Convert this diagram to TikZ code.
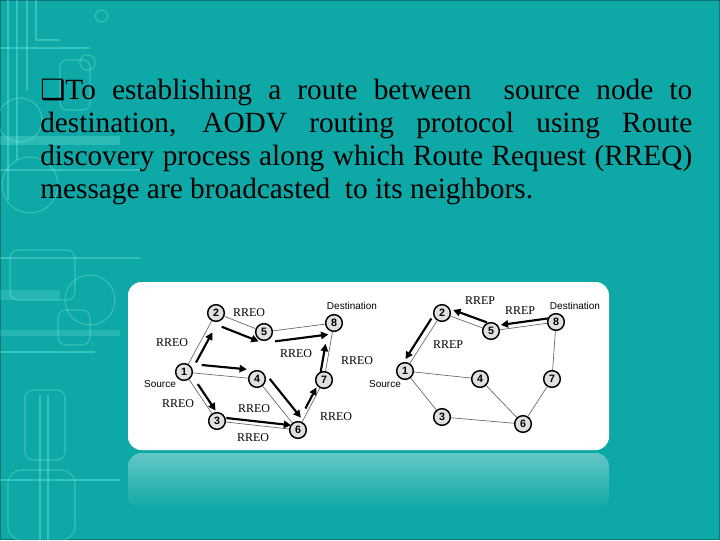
\documentclass[tikz,border=0pt]{standalone}
\usepackage{fontspec}
\setmainfont{Liberation Serif}
\setsansfont{Liberation Sans}
\newfontfamily\symfont{DejaVu Sans}
\usetikzlibrary{arrows.meta,calc}
\definecolor{slidebg}{RGB}{14,168,166}
\definecolor{glow}{RGB}{130,242,232}
\begin{document}
\begin{tikzpicture}[x=0.75pt,y=-0.75pt]
        \tikzstyle{station}=[circle,draw=black,line width=1.1pt,fill=black!12,minimum size=12.5pt,inner sep=0pt,font=\sffamily\bfseries\fontsize{8}{8}\selectfont]
        \tikzstyle{link}=[draw=black!60,line width=0.5pt]
        \tikzstyle{msg}=[draw=black,line width=1.6pt,-{Triangle[length=5.5pt,width=5.5pt]}]
        \tikzstyle{tag}=[inner sep=0pt,font=\fontsize{9}{9}\selectfont]
        \tikzstyle{place}=[inner sep=0pt,font=\sffamily\fontsize{7.5}{7.5}\selectfont]
        \tikzstyle{trace}=[draw=glow,line width=0.8pt,opacity=0.35]
       % slide background
       \fill[slidebg] (0,0) rectangle (720,540);
       \useasboundingbox (0,0) rectangle (720,540);
       \draw[slidebg!70!black,line width=1pt] (0.5,0.5) rectangle (719.5,539.5);
       % circuit decoration on the left
       \begin{scope}
         \draw[trace] (8,0) -- (8,200);
         \draw[trace] (17,0) -- (17,160);
         \draw[trace] (27,0) -- (27,90);
         \draw[trace] (36,0) -- (36,40) -- (60,40);
         \draw[trace] (0,48) -- (90,48);
         \draw[trace,rounded corners=5] (60,60) rectangle (90,110);
         \draw[trace,rounded corners=5] (95,10) rectangle (108,22);
         \draw[trace,rounded corners=5] (80,55) rectangle (95,70);
         \draw[trace] (20,120) circle (22);
         \draw[trace] (30,185) circle (28);
         \draw[trace,rounded corners=6] (10,250) rectangle (75,300);
         \draw[trace,rounded corners=6] (58,310) rectangle (90,345);
         \draw[trace] (90,300) circle (25);
         \draw[trace] (0,170) -- (140,170);
         \draw[trace] (0,258) -- (140,258);
         \draw[trace] (0,352) -- (95,352);
         \draw[trace] (40,395) -- (40,540);
         \draw[trace] (48,395) -- (48,540);
         \draw[trace,rounded corners=10] (8,470) rectangle (75,540);
         \draw[trace,rounded corners=6] (25,390) rectangle (65,460);
         \draw[trace] (0,480) -- (120,480);
         \fill[glow,opacity=0.25] (0,136) rectangle (120,145);
         \fill[glow,opacity=0.2] (0,290) rectangle (60,300);
         \fill[glow,opacity=0.2] (0,330) rectangle (120,336);
       \end{scope}
       % heading text
       \node[anchor=north west,inner sep=0pt,text width=489pt,align=justify,font=\fontsize{22}{24.75}\selectfont] (intro) at (40,79)
         {{\symfont\fontsize{21}{21}\selectfont ❑}To establishing a route between~ source node to\linebreak destination, AODV routing protocol using Route\linebreak discovery process along which Route Request (RREQ)\linebreak message are broadcasted~ to its neighbors.};
       % picture panel and its reflection
       \shade[top color=white!35!slidebg,bottom color=slidebg,rounded corners=10] (128,453) rectangle (609,510);
       \fill[white,rounded corners=10] (128,282) rectangle (609,450);
       % route request flooding
       \begin{scope}
         \node [station] (l1) at (184,372) {1};
         \node [station] (l2) at (216,313) {2};
         \node [station] (l3) at (217,421) {3};
         \node [station] (l4) at (257,379) {4};
         \node [station] (l5) at (264,332) {5};
         \node [station] (l6) at (298,430) {6};
         \node [station] (l7) at (324,380) {7};
         \node [station] (l8) at (334,323) {8};
         \path[link] (l1) -- (l2) (l2) -- (l5) (l5) -- (l8) (l1) -- (l4) (l1) -- (l3)
                     (l3) -- (l6) (l4) -- (l6) (l6) -- (l7) (l7) -- (l8);
         \draw[msg] ($(l1)!0.21!(l2)!4.5pt!-90:(l2)$) -- ($(l1)!0.72!(l2)!4.5pt!-90:(l2)$);
         \draw[msg] ($(l2)!0.2!(l5)!8pt!-90:(l5)$) -- ($(l2)!0.97!(l5)!8pt!-90:(l5)$);
         \draw[msg] ($(l5)!0.14!(l8)!8pt!-90:(l8)$) -- ($(l5)!0.9!(l8)!8pt!-90:(l8)$);
         \draw[msg] ($(l1)!0.23!(l4)!6.5pt!90:(l4)$) -- ($(l1)!0.85!(l4)!6.5pt!90:(l4)$);
         \draw[msg] ($(l1)!0.3!(l3)!3.5pt!90:(l3)$) -- ($(l1)!0.84!(l3)!3.5pt!90:(l3)$);
         \draw[msg] ($(l3)!0.11!(l6)!3pt!90:(l6)$) -- ($(l3)!0.91!(l6)!3pt!90:(l6)$);
         \draw[msg] ($(l4)!0.12!(l6)!7.5pt!90:(l6)$) -- ($(l4)!0.88!(l6)!7.5pt!90:(l6)$);
         \draw[msg] ($(l6)!0.4!(l7)!2.5pt!90:(l7)$) -- ($(l6)!0.82!(l7)!2.5pt!90:(l7)$);
         \draw[msg] ($(l7)!0.13!(l8)!3.5pt!90:(l8)$) -- ($(l7)!0.62!(l8)!3.5pt!90:(l8)$);
         \node [tag] (q25) at (249,313) {RREO};
         \node [tag] (q12) at (172,343) {RREO};
         \node [tag] (q58) at (296,354) {RREO};
         \node [tag] (q78) at (357,361) {RREO};
         \node [tag] (q13) at (178,404) {RREO};
         \node [tag] (q46) at (254,409) {RREO};
         \node [tag] (q67) at (336,417) {RREO};
         \node [tag] (q36) at (253,438) {RREO};
         \node [place] (lsrc) at (160,384) {Source};
         \node [place] (ldst) at (352,306) {Destination};
        \end{scope}
       % route reply back to the source
       \begin{scope}
         \node [station] (r1) at (405,371) {1};
         \node [station] (r2) at (442,313) {2};
         \node [station] (r3) at (442,417) {3};
         \node [station] (r4) at (480,379) {4};
         \node [station] (r5) at (491,331) {5};
         \node [station] (r6) at (523,424) {6};
         \node [station] (r7) at (552,379) {7};
         \node [station] (r8) at (556,322) {8};
         \path[link] (r1) -- (r2) (r2) -- (r5) (r5) -- (r8) (r1) -- (r4) (r1) -- (r3)
                     (r3) -- (r6) (r4) -- (r6) (r6) -- (r7) (r7) -- (r8);
         \draw[msg] ($(r8)!0.11!(r5)!3.5pt!-90:(r5)$) -- ($(r8)!0.84!(r5)!3.5pt!-90:(r5)$);
         \draw[msg] ($(r5)!0.13!(r2)!5pt!-90:(r2)$) -- ($(r5)!0.82!(r2)!5pt!-90:(r2)$);
         \draw[msg] ($(r2)!0.15!(r1)!4.5pt!-90:(r1)$) -- ($(r2)!0.85!(r1)!4.5pt!-90:(r1)$);
         \node [tag] (p52) at (480,301) {RREP};
         \node [tag] (p85) at (520,311) {RREP};
         \node [tag] (p21) at (448,345) {RREP};
         \node [place] (rsrc) at (385,384) {Source};
         \node [place] (rdst) at (575,306) {Destination};
        \end{scope}
      \end{tikzpicture}
\end{document}
